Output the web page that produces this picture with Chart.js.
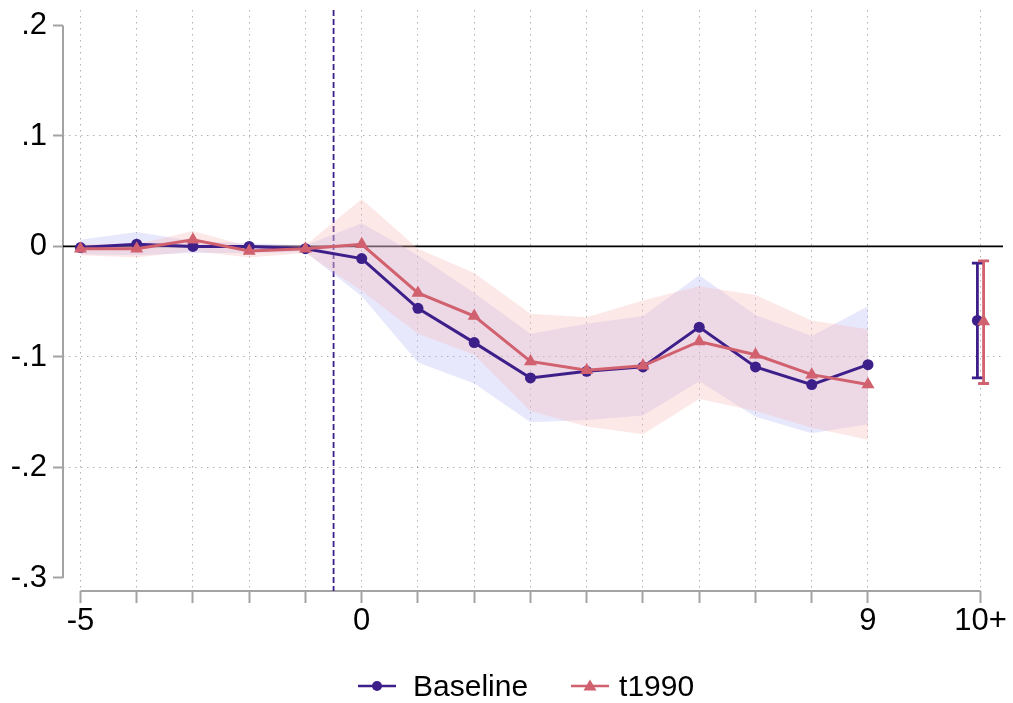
<!DOCTYPE html>
<html>
<head>
<meta charset="utf-8">
<script src="https://cdn.jsdelivr.net/npm/chart.js@4/dist/chart.umd.min.js"></script>
<style>
  body { margin: 0; background: #fff; }
  #wrap { position: relative; width: 1013px; height: 703px; }
  #legend {
    position: absolute; top: 668px; left: 358px; height: 36px;
    display: flex; align-items: center;
    font-family: "Liberation Sans", Arial, sans-serif; font-size: 30px; color: #000;
  }
  #legend svg { display: block; }
</style>
</head>
<body>
<div id="wrap">
  <canvas id="chart"></canvas>
  <div id="legend">
    <svg width="38" height="20" style="margin-right:17px">
      <line x1="0" y1="10" x2="38" y2="10" stroke="#3d1f8a" stroke-width="2.5"/>
      <circle cx="19" cy="10" r="5" fill="#3d1f8a"/>
    </svg>
    <span style="margin-right:43px">Baseline</span>
    <svg width="38" height="20" style="margin-right:10px">
      <line x1="0" y1="10" x2="38" y2="10" stroke="#d1616e" stroke-width="2.5"/>
      <polygon points="19,3.5 25.5,14.5 12.5,14.5" fill="#d1616e"/>
    </svg>
    <span>t1990</span>
  </div>
</div>
<script>
// event time, -5 .. 9 (the last bin "10+" is shown on its own)
const periods = [-5, -4, -3, -2, -1, 0, 1, 2, 3, 4, 5, 6, 7, 8, 9];

const baseCoef = [-0.001, 0.002, 0.000, 0.000, -0.002, -0.011, -0.056, -0.087, -0.119, -0.113, -0.109, -0.073, -0.109, -0.125, -0.107];
const baseLo = [-0.007, -0.008, -0.006, -0.006, -0.005, -0.045, -0.105, -0.124, -0.159, -0.157, -0.153, -0.122, -0.154, -0.169, -0.161];
const baseHi = [0.006, 0.013, 0.005, 0.003, 0.001, 0.021, -0.008, -0.042, -0.079, -0.070, -0.063, -0.026, -0.062, -0.081, -0.054];

const tCoef = [-0.002, -0.002, 0.006, -0.004, -0.002, 0.002, -0.042, -0.063, -0.104, -0.112, -0.108, -0.086, -0.098, -0.116, -0.125];
const tLo = [-0.008, -0.010, -0.004, -0.010, -0.006, -0.040, -0.079, -0.098, -0.149, -0.163, -0.170, -0.138, -0.149, -0.164, -0.175];
const tHi = [0.002, 0.002, 0.014, 0.000, 0.001, 0.043, -0.002, -0.024, -0.061, -0.064, -0.049, -0.036, -0.044, -0.067, -0.075];

// "10+" bin: [coef, lo, hi]
const baseEnd = [-0.067, -0.119, -0.015];
const tEnd = [-0.068, -0.124, -0.013];
const endPos = 11;
const dodge = 0.055;

const xTicks = [-5, -4, -3, -2, -1, 0, 1, 2, 3, 4, 5, 6, 7, 8, 9, 11];
const xTickLabels = { "-5": "-5", "0": "0", "9": "9", "11": "10+" };
const yTicks = [0.2, 0.1, 0, -0.1, -0.2, -0.3];
const yTickLabels = [".2", ".1", "0", "-.1", "-.2", "-.3"];
const eventLine = -0.5;

const purple = "#3d1f8a";
const red = "#d1616e";
const axisGray = "#a3a3a3";

const pts = (xs, ys) => xs.map((x, i) => ({ x: x, y: ys[i] }));

const refLines = {
  id: "refLines",
  beforeDatasetsDraw(chart) {
    const { ctx, chartArea: a, scales: { x, y } } = chart;
    ctx.save();
    // axes (stata style, offset from the plot region)
    ctx.strokeStyle = axisGray;
    ctx.lineWidth = 2;
    ctx.beginPath();
    ctx.moveTo(a.left, y.getPixelForValue(Math.max(...yTicks)));
    ctx.lineTo(a.left, y.getPixelForValue(Math.min(...yTicks)));
    ctx.moveTo(x.getPixelForValue(xTicks[0]), a.bottom);
    ctx.lineTo(x.getPixelForValue(xTicks[xTicks.length - 1]), a.bottom);
    ctx.stroke();
    // zero line
    ctx.strokeStyle = "#000";
    ctx.lineWidth = 1.8;
    ctx.beginPath();
    ctx.moveTo(a.left, y.getPixelForValue(0));
    ctx.lineTo(a.right, y.getPixelForValue(0));
    ctx.stroke();
    // treatment line
    ctx.strokeStyle = purple;
    ctx.lineWidth = 1.8;
    ctx.setLineDash([6, 3]);
    ctx.beginPath();
    ctx.moveTo(x.getPixelForValue(eventLine), a.top);
    ctx.lineTo(x.getPixelForValue(eventLine), a.bottom);
    ctx.stroke();
    ctx.setLineDash([]);
    // error bars for the 10+ bin
    [[baseEnd, endPos - dodge, purple], [tEnd, endPos + dodge, red]].forEach(([e, xv, c]) => {
      const px = x.getPixelForValue(xv);
      const lo = y.getPixelForValue(e[1]);
      const hi = y.getPixelForValue(e[2]);
      ctx.strokeStyle = c;
      ctx.lineWidth = 2.8;
      ctx.beginPath();
      ctx.moveTo(px, lo); ctx.lineTo(px, hi);
      ctx.moveTo(px - 5.5, lo); ctx.lineTo(px + 5.5, lo);
      ctx.moveTo(px - 5.5, hi); ctx.lineTo(px + 5.5, hi);
      ctx.stroke();
    });
    ctx.restore();
  }
};

Chart.defaults.font.family = '"Liberation Sans", Arial, sans-serif';
Chart.defaults.color = "#000";

new Chart(document.getElementById("chart"), {
  type: "line",
  data: {
    datasets: [
      { data: pts(periods, baseLo), borderWidth: 0, pointRadius: 0, fill: false, order: 20 },
      { data: pts(periods, baseHi), borderWidth: 0, pointRadius: 0, fill: "-1",
        backgroundColor: "rgba(178,178,245,0.3)", order: 19 },
      { data: pts(periods, tLo), borderWidth: 0, pointRadius: 0, fill: false, order: 18 },
      { data: pts(periods, tHi), borderWidth: 0, pointRadius: 0, fill: "-1",
        backgroundColor: "rgba(248,178,178,0.3)", order: 17 },
      {
        label: "Baseline",
        data: pts(periods, baseCoef),
        borderColor: purple, backgroundColor: purple, borderWidth: 3,
        pointStyle: "circle", pointRadius: 5.5, pointBorderWidth: 0,
        fill: false, order: 2
      },
      {
        label: "t1990",
        data: pts(periods, tCoef),
        borderColor: red, backgroundColor: red, borderWidth: 3,
        pointStyle: "triangle", pointRadius: 7.5, pointBorderWidth: 0,
        fill: false, order: 1
      },
      {
        data: [{ x: endPos - dodge, y: baseEnd[0] }],
        showLine: false, backgroundColor: purple, borderColor: purple,
        pointStyle: "circle", pointRadius: 5.5, pointBorderWidth: 0, order: 2
      },
      {
        data: [{ x: endPos + dodge, y: tEnd[0] }],
        showLine: false, backgroundColor: red, borderColor: red,
        pointStyle: "triangle", pointRadius: 7.5, pointBorderWidth: 0, order: 1
      }
    ]
  },
  options: {
    responsive: true,
    maintainAspectRatio: false,
    animation: false,
    layout: { padding: { left: 0, top: 10, right: 10, bottom: 62 } },
    plugins: { legend: { display: false }, tooltip: { enabled: false } },
    scales: {
      x: {
        type: "linear",
        min: -5.31,
        max: 11.4,
        afterBuildTicks: (s) => { s.ticks = xTicks.map(v => ({ value: v })); },
        afterFit: (s) => { s.height = 50; s.paddingLeft = 0; s.paddingRight = 0; },
        border: { display: false, dash: [1.5, 4.5] },
        grid: {
          color: "rgba(0,0,0,0.3)", lineWidth: 1,
          tickLength: 12, tickColor: axisGray, tickWidth: 2, tickBorderDash: []
        },
        ticks: {
          autoSkip: false, maxRotation: 0, padding: 0,
          font: { size: 31 },
          callback: (v) => xTickLabels[String(v)] || ""
        }
      },
      y: {
        min: -0.3118,
        max: 0.214,
        afterBuildTicks: (s) => { s.ticks = yTicks.map(v => ({ value: v })); },
        afterFit: (s) => { s.width = 63; s.paddingTop = 0; s.paddingBottom = 0; },
        border: { display: false, dash: [1.5, 4.5] },
        grid: {
          color: (c) => {
            const v = c.tick ? c.tick.value : null;
            return (v === 0.1 || v === -0.1 || v === -0.2) ? "rgba(0,0,0,0.3)" : "rgba(0,0,0,0)";
          },
          lineWidth: 1,
          tickLength: 10, tickColor: axisGray, tickWidth: 2, tickBorderDash: []
        },
        ticks: {
          padding: 6,
          font: { size: 31 },
          callback: (v) => {
            const i = yTicks.findIndex(t => Math.abs(t - v) < 1e-9);
            return i >= 0 ? yTickLabels[i] : "";
          }
        }
      }
    }
  },
  plugins: [refLines]
});
</script>
</body>
</html>
